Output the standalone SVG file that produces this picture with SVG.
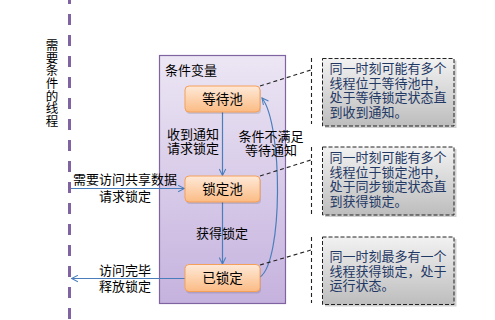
<svg xmlns="http://www.w3.org/2000/svg" width="495" height="320" viewBox="0 0 495 320">
<defs>
<linearGradient id="gCont" x1="0" y1="0" x2="0" y2="1">
<stop offset="0" stop-color="#ece6f4"/>
<stop offset="1" stop-color="#c5b2de"/>
</linearGradient>
<linearGradient id="gNode" x1="0" y1="0" x2="0" y2="1">
<stop offset="0" stop-color="#fee9d8"/>
<stop offset="1" stop-color="#fbbb84"/>
</linearGradient>
<linearGradient id="gNote" x1="0" y1="0" x2="0" y2="1">
<stop offset="0" stop-color="#f2f2f2"/>
<stop offset="1" stop-color="#bdbdbd"/>
</linearGradient>
<marker id="arr" viewBox="0 0 10 10" refX="9" refY="5" markerWidth="8" markerHeight="8" markerUnits="userSpaceOnUse" orient="auto">
<path d="M1,1 L9,5 L1,9" fill="none" stroke="#4a7ebb" stroke-width="1.3"/>
</marker>
</defs>
<style>
text{font-family:"Noto Sans CJK SC","Noto Sans",sans-serif;font-size:13px;fill:#000}
.node rect.b{fill:url(#gNode);stroke:#f5a05a;stroke-width:1}
.node rect.s{fill:#000;opacity:0.12}
.node text{text-anchor:middle;font-size:13.5px}
.note rect.b{fill:url(#gNote);stroke:#222;stroke-width:1;stroke-dasharray:4 2}
.note rect.s{fill:#000;opacity:0.18}
.note text{fill:#1f3864}
.conn{fill:none;stroke:#4a7ebb;stroke-width:1.2}
.call{fill:none;stroke:#222;stroke-width:1.1;stroke-dasharray:4 3}
.lbl{text-anchor:middle}
.vert{writing-mode:vertical-rl;text-orientation:upright;font-size:12.5px;letter-spacing:0.2px}
</style>
<rect width="495" height="320" fill="#fff"/>

<g id="lifeline">
<line x1="69.5" y1="0" x2="69.5" y2="320" stroke="#8064a2" stroke-width="3" stroke-dasharray="11 10" stroke-dashoffset="7"/>
<text class="vert" x="52" y="39">需要条件的线程</text>
</g>

<g id="container">
<rect x="159.5" y="55.5" width="126" height="248" fill="url(#gCont)" stroke="#8064a2" stroke-width="1.2"/>
<text x="165" y="75" font-size="15px">条件变量</text>
</g>

<g id="connectors">
<line class="conn" x1="222.5" y1="112" x2="222.5" y2="175.5" marker-end="url(#arr)"/>
<line class="conn" x1="222.5" y1="202" x2="222.5" y2="264" marker-end="url(#arr)"/>
<path class="conn" d="M260,277 C283,262 283,125 262,98" marker-end="url(#arr)"/>
<line class="conn" x1="71" y1="188.5" x2="184.5" y2="188.5" marker-end="url(#arr)"/>
<line class="conn" x1="185" y1="278.5" x2="71.5" y2="278.5" marker-end="url(#arr)"/>
<text class="lbl"><tspan x="193" y="139">收到通知</tspan><tspan x="193" y="153">请求锁定</tspan></text>
<text class="lbl"><tspan x="271" y="141">条件不满足</tspan><tspan x="271" y="155">等待通知</tspan></text>
<text class="lbl" x="222" y="238">获得锁定</text>
<text class="lbl"><tspan x="125" y="184">需要访问共享数据</tspan><tspan x="125" y="201">请求锁定</tspan></text>
<text class="lbl"><tspan x="125" y="275">访问完毕</tspan><tspan x="125" y="291">释放锁定</tspan></text>
<polyline class="call" points="260,86 311,70"/>
<polyline class="call" points="260,176 311,160"/>
<polyline class="call" points="260,265 311,250"/>
<line class="call" x1="311.5" y1="58" x2="311.5" y2="124"/>
<line class="call" x1="311.5" y1="147" x2="311.5" y2="214"/>
<line class="call" x1="311.5" y1="237" x2="311.5" y2="303"/>
</g>

<g id="n-wait" class="node">
<rect class="s" x="186" y="88" width="75" height="26" rx="4"/>
<rect class="b" x="185" y="86" width="75" height="26" rx="4"/>
<text x="222.5" y="104">等待池</text>
</g>
<g id="n-lock" class="node">
<rect class="s" x="186" y="178" width="75" height="26" rx="4"/>
<rect class="b" x="185" y="176" width="75" height="26" rx="4"/>
<text x="222.5" y="194">锁定池</text>
</g>
<g id="n-locked" class="node">
<rect class="s" x="186" y="266.5" width="75" height="27" rx="4"/>
<rect class="b" x="185" y="264.5" width="75" height="27" rx="4"/>
<text x="222.5" y="283">已锁定</text>
</g>

<g id="note1" class="note">
<rect class="s" x="325" y="60.5" width="131.5" height="67.5"/>
<rect class="b" x="322.5" y="58.5" width="131.5" height="67.5"/>
<text><tspan x="329.5" y="73">同一时刻可能有多个</tspan><tspan x="329.5" y="87.5">线程位于等待池中，</tspan><tspan x="329.5" y="102">处于等待锁定状态直</tspan><tspan x="329.5" y="116.5">到收到通知。</tspan></text>
</g>
<g id="note2" class="note">
<rect class="s" x="325" y="149" width="131.5" height="68"/>
<rect class="b" x="322.5" y="147" width="131.5" height="68"/>
<text><tspan x="329.5" y="162">同一时刻可能有多个</tspan><tspan x="329.5" y="176.5">线程位于锁定池中，</tspan><tspan x="329.5" y="191">处于同步锁定状态直</tspan><tspan x="329.5" y="205.5">到获得锁定。</tspan></text>
</g>
<g id="note3" class="note">
<rect class="s" x="325" y="239" width="131.5" height="67.5"/>
<rect class="b" x="322.5" y="237" width="131.5" height="67.5"/>
<text><tspan x="329.5" y="261">同一时刻最多有一个</tspan><tspan x="329.5" y="275.5">线程获得锁定，处于</tspan><tspan x="329.5" y="290">运行状态。</tspan></text>
</g>
</svg>
